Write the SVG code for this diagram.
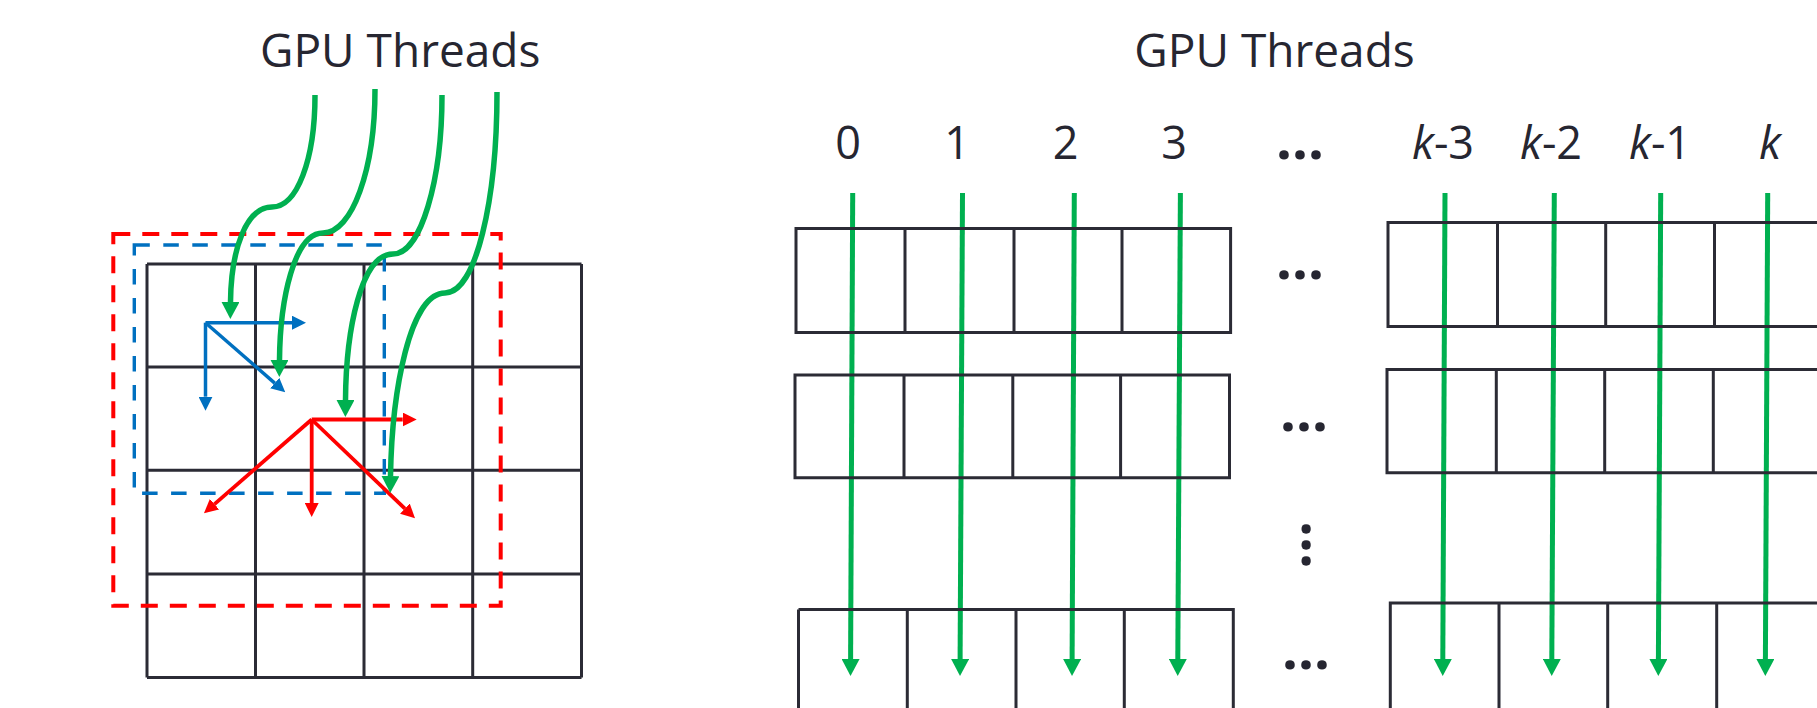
<svg xmlns="http://www.w3.org/2000/svg" width="1817" height="708" viewBox="0 0 1817 708">
<style>
.bg{fill:#ffffff}
.cell{fill:none;stroke:#2b2b35;stroke-width:3}
.title{font-family:"Open Sans","Liberation Sans",sans-serif;font-size:46px;fill:#262631}
.lbl{font-family:"Open Sans","Liberation Sans",sans-serif;font-size:45px;fill:#262631;text-anchor:middle}
.dots{font-family:"Open Sans","Liberation Sans",sans-serif;font-size:56px;font-weight:bold;fill:#262631;text-anchor:middle}
.green{fill:none;stroke:#00B050;stroke-width:5.5}
.gline{fill:none;stroke:#00B050;stroke-width:5}
.blue{fill:none;stroke:#0070C0;stroke-width:3.5}
.red{fill:none;stroke:#FF0000;stroke-width:3.8}
.bdash{fill:none;stroke:#0070C0;stroke-width:3.4;stroke-dasharray:15.5 13.5}
.rdash{fill:none;stroke:#FF0000;stroke-width:4;stroke-dasharray:17 12}
</style>
<defs>
<marker id="ag" markerUnits="userSpaceOnUse" viewBox="0 -9 17 18" markerWidth="17" markerHeight="18" refX="0" refY="0" orient="auto"><path d="M0,-9 L17,0 L0,9 z" fill="#00B050"/></marker>
<marker id="ab" markerUnits="userSpaceOnUse" viewBox="0 -7 14 14" markerWidth="14" markerHeight="14" refX="0" refY="0" orient="auto"><path d="M0,-7 L14,0 L0,7 z" fill="#0070C0"/></marker>
<marker id="ar" markerUnits="userSpaceOnUse" viewBox="0 -7 14 14" markerWidth="14" markerHeight="14" refX="0" refY="0" orient="auto"><path d="M0,-7 L14,0 L0,7 z" fill="#FF0000"/></marker>
</defs>
<rect class="bg" x="0" y="0" width="1817" height="708"/>

<g id="left-title"><text class="title" x="260" y="67">GPU Threads</text></g>

<g id="left-grid">
<path class="cell" d="M147,264 H581.5 M147,367 H581.5 M147,470.3 H581.5 M147,574 H581.5 M147,677.5 H581.5 M147,264 V677.5 M255.5,264 V677.5 M364,264 V677.5 M472.7,264 V677.5 M581.5,264 V677.5"/>
</g>

<g id="red-window"><rect class="rdash" x="113.3" y="234" width="387.4" height="371.7"/></g>
<g id="blue-window"><rect class="bdash" x="134.3" y="245" width="250" height="248.3"/></g>

<g id="connectors">
<g id="blue-arrows">
<path class="blue" d="M205.5,322.7 H292" marker-end="url(#ab)"/>
<path class="blue" d="M205.5,322.7 V396.7" marker-end="url(#ab)"/>
<path class="blue" d="M205.5,322.7 L274.7,383.1" marker-end="url(#ab)"/>
</g>
<g id="red-arrows">
<path class="red" d="M311.7,419.5 H402.7" marker-end="url(#ar)"/>
<path class="red" d="M311.7,419.5 V503" marker-end="url(#ar)"/>
<path class="red" d="M311.7,419.5 L214.5,504.1" marker-end="url(#ar)"/>
<path class="red" d="M311.7,419.5 L404.9,508.6" marker-end="url(#ar)"/>
</g>
<g id="curved-threads">
<path class="green" d="M315,95 C315,160 297,207 272,207 C246,207 231,250 230.5,302" marker-end="url(#ag)"/>
<path class="green" d="M375,89 C375,170 352,233 323,233 C294,233 280,300 279.5,360" marker-end="url(#ag)"/>
<path class="green" d="M442,95 C442,180 421,254 393,254 C361,254 346,330 345.5,400" marker-end="url(#ag)"/>
<path class="green" d="M497,92 C497,200 476,293 445,293 C410,293 392,390 390.5,476" marker-end="url(#ag)"/>
</g>
<g id="straight-threads">
<path class="gline" d="M852.7,193 L850.6,659" marker-end="url(#ag)"/>
<path class="gline" d="M962.5,193 L960.1,659" marker-end="url(#ag)"/>
<path class="gline" d="M1074.3,193 L1072.1,659" marker-end="url(#ag)"/>
<path class="gline" d="M1180.4,193 L1177.8,659" marker-end="url(#ag)"/>
<path class="gline" d="M1445,193 L1442.8,659" marker-end="url(#ag)"/>
<path class="gline" d="M1554.3,193 L1551.8,659" marker-end="url(#ag)"/>
<path class="gline" d="M1660.7,193 L1658.4,659" marker-end="url(#ag)"/>
<path class="gline" d="M1767.7,193 L1765.4,659" marker-end="url(#ag)"/>
</g>
</g>

<g id="right-title"><text class="title" x="1274.5" y="67" text-anchor="middle">GPU Threads</text></g>

<g id="thread-labels">
<text class="lbl" x="848" y="159">0</text>
<text class="lbl" x="957" y="159">1</text>
<text class="lbl" x="1065.5" y="159">2</text>
<text class="lbl" x="1174" y="159">3</text>
<text class="lbl" x="1443" y="159"><tspan font-style="italic">k</tspan>-3</text>
<text class="lbl" x="1551" y="159"><tspan font-style="italic">k</tspan>-2</text>
<text class="lbl" x="1660" y="159"><tspan font-style="italic">k</tspan>-1</text>
<text class="lbl" x="1770" y="159" font-style="italic">k</text>
</g>

<g id="ellipses">
<text class="dots" x="1300" y="159">...</text>
<text class="dots" x="1300" y="279">...</text>
<text class="dots" x="1304" y="431">...</text>
<text class="dots" x="1306" y="669">...</text>
<text class="dots" x="1301.5" y="545" transform="rotate(90 1301.5 545)">...</text>
</g>

<g id="block-row1-left"><path class="cell" d="M796,228.5 H1230.6 V332.6 H796 Z M905,228.5 V332.6 M1014,228.5 V332.6 M1122,228.5 V332.6"/></g>
<g id="block-row2-left"><path class="cell" d="M795,375 H1229.5 V477.7 H795 Z M904,375 V477.7 M1012.8,375 V477.7 M1120.6,375 V477.7"/></g>
<g id="block-row3-left"><path class="cell" d="M798.5,609.5 H1233.3 V715 M798.5,609.5 V715 M907.3,609.5 V715 M1016,609.5 V715 M1124.3,609.5 V715"/></g>
<g id="block-row1-right"><path class="cell" d="M1830,222.5 H1388 V326.5 H1830 M1497.5,222.5 V326.5 M1605.7,222.5 V326.5 M1714.5,222.5 V326.5"/></g>
<g id="block-row2-right"><path class="cell" d="M1830,369.5 H1387 V472.7 H1830 M1496.3,369.5 V472.7 M1604.7,369.5 V472.7 M1713.3,369.5 V472.7"/></g>
<g id="block-row3-right"><path class="cell" d="M1830,603 H1390.3 V715 M1499,603 V715 M1607.7,603 V715 M1716.7,603 V715"/></g>
</svg>
